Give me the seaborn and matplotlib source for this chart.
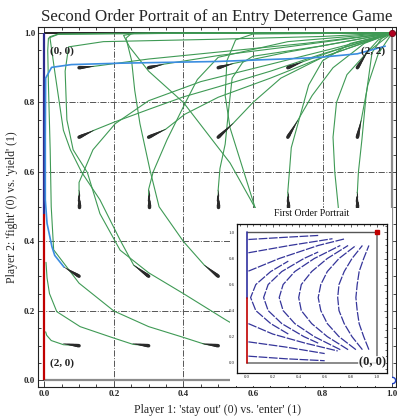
import numpy as np
import pandas as pd
import seaborn as sns
import matplotlib
matplotlib.use("Agg")
import matplotlib.pyplot as plt
from matplotlib.collections import LineCollection
from matplotlib.ticker import MultipleLocator

# ---------------- data ----------------
grid_x = [0.1, 0.3, 0.5, 0.7, 0.9]
grid_y = [0.1, 0.3, 0.5, 0.7, 0.9]
# initial velocity arrows (tip offset from grid point), row by row (y), then x
comet_dx = [[-0.046, -0.046, -0.046, -0.046, -0.046],
            [-0.043, -0.043, -0.040, -0.040, -0.040],
            [0.000, 0.000, 0.000, 0.000, 0.000],
            [0.043, 0.049, 0.043, 0.029, 0.011],
            [0.043, 0.043, 0.043, 0.043, 0.029]]
comet_dy = [[0.006, 0.006, 0.006, 0.006, 0.006],
            [0.026, 0.032, 0.032, 0.032, 0.032],
            [0.048, 0.048, 0.048, 0.043, 0.043],
            [0.020, 0.023, 0.040, 0.049, 0.049],
            [0.004, 0.010, 0.012, 0.017, 0.046]]

# second-order trajectories
traj_11_x = [0.1, 0.055, 0.02, 0.007, 0.004]
traj_11_y = [0.1, 0.103, 0.115, 0.13, 0.14]
traj_31_x = [0.3, 0.255, 0.2, 0.103, 0.036, 0.015, 0.008, 0.005]
traj_31_y = [0.1, 0.104, 0.122, 0.155, 0.198, 0.25, 0.295, 0.34]
traj_51_x = [0.5, 0.462, 0.4, 0.3, 0.2, 0.1, 0.027, 0.02, 0.017, 0.012, 0.01, 0.012, 0.04, 0.4, 1.0]
traj_51_y = [0.1, 0.104, 0.124, 0.155, 0.2, 0.28, 0.376, 0.5, 0.664, 0.85, 0.95, 0.985, 0.996, 0.999, 1.0]
traj_71_x = [0.7, 0.654, 0.6, 0.524, 0.4, 0.3, 0.218, 0.16, 0.124, 0.083, 0.065, 0.06, 0.07, 0.17, 0.5, 0.8, 1.0]
traj_71_y = [0.1, 0.106, 0.13, 0.173, 0.25, 0.31, 0.375, 0.48, 0.598, 0.664, 0.75, 0.89, 0.96, 0.975, 0.982, 0.99, 1.0]
traj_91_x = [0.9, 0.854, 0.75, 0.66, 0.606, 0.534, 0.52, 0.525, 0.55, 0.6, 1.0]
traj_91_y = [0.1, 0.106, 0.17, 0.33, 0.497, 0.727, 0.82, 0.92, 0.98, 0.997, 1.0]
traj_33_x = [0.3, 0.257, 0.218, 0.16, 0.107, 0.075, 0.055, 0.031, 0.016, 0.04, 0.3, 1.0]
traj_33_y = [0.3, 0.332, 0.404, 0.52, 0.6, 0.664, 0.72, 0.883, 0.989, 0.997, 1.0, 1.0]
traj_53_x = [0.5, 0.46, 0.4, 0.33, 0.304, 0.275, 0.26, 0.251, 0.235, 0.25, 0.5, 1.0]
traj_53_y = [0.3, 0.332, 0.4, 0.5, 0.605, 0.739, 0.835, 0.921, 0.985, 0.998, 1.0, 1.0]
traj_73_x = [0.7, 0.66, 0.63, 0.606, 0.534, 0.4, 0.3, 0.245, 0.228, 0.26, 0.5, 1.0]
traj_73_y = [0.3, 0.332, 0.4, 0.497, 0.626, 0.8, 0.89, 0.96, 0.993, 0.999, 1.0, 1.0]
traj_93_x = [0.9, 0.86, 0.85, 0.845, 0.835, 0.83, 0.84, 0.87, 0.927, 1.0]
traj_93_y = [0.3, 0.332, 0.42, 0.5, 0.6, 0.7, 0.8, 0.88, 0.943, 1.0]
traj_15_x = [0.1, 0.1, 0.14, 0.204, 0.3, 0.45, 0.65, 0.85, 1.0]
traj_15_y = [0.5, 0.57, 0.664, 0.739, 0.805, 0.86, 0.91, 0.96, 1.0]
traj_35_x = [0.3, 0.3, 0.313, 0.353, 0.41, 0.44, 0.5, 0.7, 1.0]
traj_35_y = [0.5, 0.55, 0.6, 0.693, 0.808, 0.866, 0.93, 0.975, 1.0]
traj_55_x = [0.5, 0.5, 0.505, 0.52, 0.53, 0.54, 0.57, 0.6, 0.793, 1.0]
traj_55_y = [0.5, 0.55, 0.61, 0.68, 0.78, 0.87, 0.915, 0.933, 0.962, 1.0]
traj_75_x = [0.7, 0.7, 0.705, 0.71, 0.735, 0.76, 0.8, 0.88, 1.0]
traj_75_y = [0.5, 0.543, 0.605, 0.67, 0.76, 0.85, 0.92, 0.97, 1.0]
traj_95_x = [0.9, 0.9, 0.903, 0.913, 0.925, 0.942, 0.97, 1.0]
traj_95_y = [0.5, 0.543, 0.6, 0.693, 0.82, 0.943, 0.985, 1.0]
traj_17_x = [0.1, 0.143, 0.2, 0.3, 0.4, 0.5, 0.65, 0.8, 0.92, 1.0]
traj_17_y = [0.7, 0.72, 0.743, 0.78, 0.816, 0.845, 0.89, 0.94, 0.975, 1.0]
traj_37_x = [0.3, 0.349, 0.404, 0.5, 0.65, 0.8, 1.0]
traj_37_y = [0.7, 0.723, 0.766, 0.815, 0.87, 0.93, 1.0]
traj_57_x = [0.5, 0.543, 0.6, 0.68, 0.8, 1.0]
traj_57_y = [0.7, 0.74, 0.8, 0.87, 0.93, 1.0]
traj_77_x = [0.7, 0.729, 0.77, 0.83, 0.92, 1.0]
traj_77_y = [0.7, 0.749, 0.82, 0.9, 0.97, 1.0]
traj_97_x = [0.9, 0.911, 0.93, 0.96, 1.0]
traj_97_y = [0.7, 0.749, 0.85, 0.94, 1.0]
traj_19_x = [0.1, 0.143, 0.3, 0.5, 0.75, 1.0]
traj_19_y = [0.9, 0.904, 0.925, 0.945, 0.97, 1.0]
traj_39_x = [0.3, 0.343, 0.5, 0.7, 1.0]
traj_39_y = [0.9, 0.91, 0.935, 0.96, 1.0]
traj_59_x = [0.5, 0.543, 0.7, 0.85, 1.0]
traj_59_y = [0.9, 0.912, 0.945, 0.972, 1.0]
traj_79_x = [0.7, 0.743, 0.85, 1.0]
traj_79_y = [0.9, 0.917, 0.955, 1.0]
traj_99_x = [0.9, 0.929, 0.96, 1.0]
traj_99_y = [0.9, 0.946, 0.98, 1.0]

# highlighted (blue) trajectory
blue_x = [0.057, 0.03, 0.022, 0.008, 0.003, 0.003, 0.004, 0.021, 0.078, 0.218, 0.5, 0.736, 0.793, 0.9, 0.98]
blue_y = [0.326, 0.36, 0.385, 0.452, 0.52, 0.7, 0.87, 0.901, 0.909, 0.913, 0.918, 0.927, 0.93, 0.94, 0.962]

# first order streamlines (inset)
inset_lines = [
    ([0.013, 0.28, 0.55], [0.946, 0.962, 0.977]),
    ([0.013, 0.33, 0.66], [0.844, 0.9, 0.952]),
    ([0.013, 0.25, 0.55, 0.75], [0.703, 0.8, 0.9, 0.95]),
    ([0.013, 0.3, 0.6], [0.05, 0.03, 0.015]),
    ([0.013, 0.3, 0.6], [0.16, 0.12, 0.07]),
    ([0.013, 0.2, 0.45, 0.7], [0.3, 0.22, 0.15, 0.09]),
    ([0.32, 0.185, 0.07, 0.03, 0.07, 0.185, 0.32], [0.22, 0.3, 0.4, 0.5, 0.6, 0.7, 0.78]),
    ([0.55, 0.44, 0.27, 0.165, 0.13, 0.165, 0.27, 0.44, 0.55], [0.15, 0.2, 0.3, 0.4, 0.5, 0.6, 0.7, 0.8, 0.85]),
    ([0.72, 0.52, 0.37, 0.28, 0.25, 0.28, 0.37, 0.52, 0.72], [0.1, 0.2, 0.3, 0.4, 0.5, 0.6, 0.7, 0.8, 0.9]),
    ([0.78, 0.62, 0.5, 0.42, 0.4, 0.42, 0.5, 0.62, 0.78], [0.1, 0.2, 0.3, 0.4, 0.5, 0.6, 0.7, 0.8, 0.9]),
    ([0.84, 0.71, 0.62, 0.57, 0.55, 0.57, 0.62, 0.71, 0.84], [0.1, 0.2, 0.3, 0.4, 0.5, 0.6, 0.7, 0.8, 0.9]),
    ([0.89, 0.81, 0.75, 0.71, 0.7, 0.71, 0.75, 0.81, 0.89], [0.1, 0.2, 0.3, 0.4, 0.5, 0.6, 0.7, 0.8, 0.9]),
    ([0.94, 0.9, 0.865, 0.85, 0.84, 0.85, 0.865, 0.9, 0.94], [0.1, 0.2, 0.3, 0.4, 0.5, 0.6, 0.7, 0.8, 0.9]),
]

tick_vals = [0.0, 0.2, 0.4, 0.6, 0.8, 1.0]
tick_labels = ["0.0", "0.2", "0.4", "0.6", "0.8", "1.0"]

GREEN = "#3f9a55"
LBLUE = "#3b8de0"
NAVY = "#2b2b8c"
RED = "#c00000"
GREY = "#8c8c8c"

sns.set_theme(style="white")
plt.rcParams["font.family"] = ["Liberation Serif", "DejaVu Serif"]

fig = plt.figure(figsize=(3.97, 4.17), dpi=100)
ax = fig.add_axes([38 / 397, 1 - 387.3 / 417, 358 / 397, (387.3 - 26.7) / 417])
ax.set_xlim(-0.018, 1.011)
ax.set_ylim(-0.0196, 1.018)

for g in [0.2, 0.4, 0.6, 0.8]:
    ax.axvline(g, color="#555555", lw=0.7, ls="-.", zorder=1)
    ax.axhline(g, color="#555555", lw=0.7, ls="-.", zorder=1)

# frame lines of the unit square
ax.plot([1, 1], [0, 1], color=GREY, lw=1.6, zorder=2, solid_capstyle="butt")
ax.plot([0, 1], [0, 0], color=GREY, lw=1.6, zorder=2, solid_capstyle="butt")
ax.plot([0, 1], [1, 1], color="#222222", lw=1.4, zorder=2, solid_capstyle="butt")
ax.plot([0, 0], [0.48, 1], color=NAVY, lw=1.6, zorder=2, solid_capstyle="butt")
ax.plot([0, 0], [0, 0.48], color=RED, lw=1.6, zorder=6, solid_capstyle="butt")

names = ["11", "31", "51", "71", "91", "33", "53", "73", "93", "15", "35", "55", "75", "95",
         "17", "37", "57", "77", "97", "19", "39", "59", "79", "99"]
rows = []
for n in names:
    xs = globals()["traj_%s_x" % n]
    ys = globals()["traj_%s_y" % n]
    for i, (a, b) in enumerate(zip(xs, ys)):
        rows.append({"traj": n, "order": i, "x": a, "y": b})
df = pd.DataFrame(rows)
sns.lineplot(data=df, x="x", y="y", units="traj", estimator=None, sort=False,
             color=GREEN, lw=0.8, ax=ax, zorder=3)
sns.lineplot(x=blue_x, y=blue_y, sort=False, estimator=None, color=LBLUE, lw=1.2, ax=ax, zorder=4)

# comets
for j, gy in enumerate(grid_y):
    for i, gx in enumerate(grid_x):
        dx, dy = comet_dx[j][i], comet_dy[j][i]
        t = np.linspace(0, 1, 13)
        px = gx + dx * t
        py = gy + dy * t
        segs = [[(px[k], py[k]), (px[k + 1], py[k + 1])] for k in range(len(t) - 1)]
        widths = np.linspace(2.5, 0.3, len(segs))
        lc = LineCollection(segs, linewidths=widths, colors="#2a2a2a", capstyle="round", zorder=5)
        ax.add_collection(lc)

ax.plot([1], [1], "o", ms=4.5, color="#b00020", mec="#700010", mew=0.6, zorder=7, clip_on=False)
ax.plot([1], [0], "o", ms=4.5, mfc="white", mec="#2040c0", mew=1.0, zorder=7, clip_on=False)

lab_kw = dict(fontsize=8, fontweight="bold", color="#222222", zorder=8)
ax.text(0.017, 0.948, "(0, 0)", ha="left", va="center", **lab_kw)
ax.text(0.98, 0.948, "(2, 2)", ha="right", va="center", **lab_kw)
ax.text(0.017, 0.05, "(2, 0)", ha="left", va="center", **lab_kw)

ax.set_xticks(tick_vals)
ax.set_xticklabels(tick_labels)
ax.set_yticks(tick_vals)
ax.set_yticklabels(tick_labels)
ax.xaxis.set_minor_locator(MultipleLocator(0.05))
ax.yaxis.set_minor_locator(MultipleLocator(0.05))
ax.tick_params(which="both", direction="in", top=True, right=True, bottom=True, left=True,
               color="#222222", width=0.6)
ax.tick_params(which="major", length=4, labelsize=6.5, pad=2)
ax.tick_params(which="minor", length=2)
for lab in ax.get_xticklabels() + ax.get_yticklabels():
    lab.set_fontweight("bold")
for s in ax.spines.values():
    s.set_color("#222222")
    s.set_linewidth(0.8)
ax.set_xlabel("Player 1: 'stay out' (0) vs. 'enter' (1)", fontsize=8.5, labelpad=4)
ax.set_ylabel("Player 2: 'fight' (0) vs. 'yield' (1)", fontsize=8.5, labelpad=4)
ax.set_title("Second Order Portrait of an Entry Deterrence Game", fontsize=12.2, pad=4)

# ---------------- inset ----------------
bg = plt.Rectangle((230 / 397, 1 - 386 / 417), 162 / 397, (386 - 208) / 417,
                   transform=fig.transFigure, facecolor="white", edgecolor="none", zorder=10)
fig.patches.append(bg)
ins = fig.add_axes([236.7 / 397, 1 - 372.7 / 417, 150 / 397, 148.7 / 417], zorder=11)
ins.set_facecolor("white")
ins.set_xlim(-0.077, 1.077)
ins.set_ylim(-0.077, 1.065)
for xs, ys in inset_lines:
    sns.lineplot(x=xs, y=ys, sort=False, estimator=None, color="#35359a", lw=0.9,
                 ax=ins, zorder=3, linestyle=(0, (7, 1.2)))
ins.plot([1, 1], [0, 1], color="#777777", lw=1.2, zorder=2)
ins.plot([0, 1], [0, 0], color="#777777", lw=1.2, zorder=2)
ins.plot([0, 1], [1, 1], color="#555555", lw=1.0, zorder=2)
ins.plot([0, 0], [0.5, 1], color="#3030a0", lw=1.2, zorder=4)
ins.plot([0, 0], [0, 0.5], color=RED, lw=1.2, zorder=4)
ins.plot([1], [1], "s", ms=2.5, color="#c00000", zorder=6, clip_on=False)
ins.text(1.07, 0.0, "(0, 0)", ha="right", va="center", fontsize=9, fontweight="bold",
         color="#222222", zorder=8, bbox=dict(facecolor="white", edgecolor="none", pad=0.3, alpha=0.8))
ins.set_xticks(tick_vals)
ins.set_xticklabels(tick_labels)
ins.set_yticks(tick_vals)
ins.set_yticklabels(tick_labels)
ins.xaxis.set_minor_locator(MultipleLocator(0.05))
ins.yaxis.set_minor_locator(MultipleLocator(0.05))
ins.tick_params(which="both", direction="in", top=True, right=True, color="#222222", width=0.5)
ins.tick_params(which="major", length=2.5, labelsize=3.5, pad=1.5)
ins.tick_params(which="minor", length=1.2)
for s in ins.spines.values():
    s.set_color("#111111")
    s.set_linewidth(0.9)
ins.set_xlabel("")
ins.set_ylabel("")
fig.text(312 / 397, 1 - 213 / 417, "First Order Portrait", ha="center", va="center",
         fontsize=7, color="#111111", zorder=12)

fig.savefig("out.png", dpi=100)
